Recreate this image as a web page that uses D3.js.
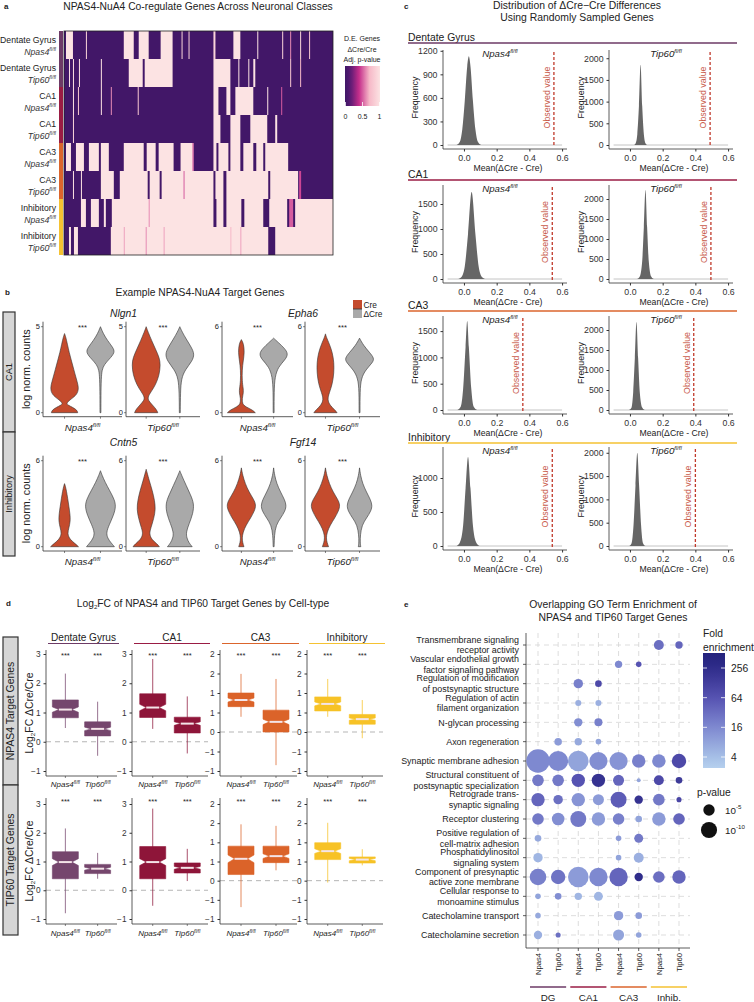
<!DOCTYPE html>
<html>
<head>
  <title>NPAS4-NuA4 co-regulation figure</title>
  <meta charset="utf-8">
  <style>
  body { margin: 0; background: #fff; }
  svg { font-family: "Liberation Sans", Arial, sans-serif; }
  .tick text { fill: #333; }
  .tick line { stroke: #333; }
  </style>
</head>
<body>
<svg width="754" height="1002"></svg>
<script src="https://cdn.jsdelivr.net/npm/d3@7"></script>
<script>

// ================= data =================

var cellTypes = ["Dentate Gyrus", "CA1", "CA3", "Inhibitory"];
var cellColors = ["#6d3a66", "#9a1c44", "#db652c", "#f5c232"];
var genos = ["Npas4", "Tip60"];

// --- a: heatmap, rows = cell type x genotype, runs of genes [from, to, adj p]
var heatGroups = ["Dentate Gyrus", "Dentate Gyrus", "CA1", "CA1", "CA3", "CA3", "Inhibitory", "Inhibitory"];
var heatGenos = ["Npas4", "Tip60", "Npas4", "Tip60", "Npas4", "Tip60", "Npas4", "Tip60"];
var nGenes = 270;
var heatRuns = [
  [[2,9,1],[22,23,0.9],[60,70,1],[75,85,1],[97,109,1],[118,119,0.9],[125,126,0.9],[150,152,0.9],[170,177,1],[194,195,1],[219,220,0.9],[227,228,0.6],[237,238,0.9],[246,247,0.8]],
  [[5,6,1],[9,10,1],[15,16,1],[37,38,1],[65,79,1],[81,109,1],[150,167,1],[175,176,1],[185,186,1],[190,192,1],[227,228,0.8],[237,238,0.7]],
  [[9,10,1],[14,15,0.8],[37,38,1],[47,48,0.6],[74,75,0.8],[150,155,1],[163,167,1],[172,190,1],[204,205,1],[218,219,0.5]],
  [[9,10,0.9],[150,157,1],[167,177,1],[187,204,1],[212,214,1]],
  [[2,7,1],[12,20,1],[25,35,1],[37,45,1],[60,80,1],[83,92,1],[95,110,1],[117,130,1],[129,130,0.45],[150,153,1],[155,165,1],[167,177,1],[180,190,1],[193,200,1],[202,225,1]],
  [[9,10,1],[17,18,1],[37,50,1],[56,84,1],[86,96,1],[98,150,1],[120,121,0.5],[152,160,1],[163,205,1],[207,235,1],[236,238,0.45]],
  [[17,22,1],[27,35,1],[40,42,1],[48,150,1],[85,86,0.6],[153,160,1],[163,178,1],[181,200,1],[206,224,1],[226,230,0.5],[232,270,1]],
  [[5,7,1],[10,14,1],[47,205,1],[60,61,0.65],[82,83,0.6],[100,101,0.65],[167,168,0.7],[177,178,0.65],[212,270,1]]
];

// --- b: violins, profile = [log norm. count, relative half width]
var violinGenes = ["Nlgn1", "Epha6", "Cntn5", "Fgf14"];
var violinMax = [5, 6, 6, 6];
var nlgn1 = {
  Npas4: { Cre: [[0,0.85],[0.15,0.8],[0.3,0.55],[0.45,0.2],[0.55,0.12],[0.75,0.35],[1.0,0.75],[1.3,0.9],[1.6,0.88],[2.0,0.75],[2.5,0.6],[3.0,0.45],[3.5,0.3],[4.0,0.18],[4.4,0.08],[4.6,0]],
           dCre: [[0,0.03],[1,0.03],[2,0.05],[2.5,0.1],[2.8,0.25],[3.1,0.55],[3.5,0.95],[3.8,0.8],[4.2,0.45],[4.6,0.18],[5,0]] },
  Tip60: { Cre: [[0,0.75],[0.2,0.65],[0.45,0.4],[0.7,0.15],[0.9,0.1],[1.2,0.3],[1.6,0.6],[2.2,0.85],[2.8,0.92],[3.2,0.85],[3.7,0.6],[4.2,0.35],[4.7,0.12],[5,0]],
           dCre: [[0,0.03],[1.2,0.04],[2,0.1],[2.5,0.35],[3.0,0.8],[3.4,0.95],[3.8,0.75],[4.3,0.4],[4.7,0.15],[5,0]] }
};
var epha6 = {
  Npas4: { Cre: [[0,0.9],[0.2,0.7],[0.4,0.3],[0.6,0.06],[1.0,0.05],[1.4,0.14],[1.7,0.12],[2.2,0.05],[3.0,0.05],[3.6,0.12],[4.2,0.2],[4.8,0.15],[5.1,0]],
           dCre: [[0,0.03],[1.5,0.03],[2.5,0.08],[3.2,0.3],[3.7,0.75],[4.1,0.95],[4.5,0.7],[4.9,0.3],[5.2,0]] },
  Tip60: { Cre: [[0,0.75],[0.2,0.6],[0.5,0.3],[0.9,0.12],[1.4,0.25],[2.0,0.45],[2.8,0.55],[3.5,0.55],[4.2,0.45],[4.8,0.25],[5.3,0.05],[5.5,0]],
           dCre: [[0,0.03],[1.5,0.03],[2.4,0.1],[3.0,0.4],[3.5,0.85],[3.8,0.95],[4.2,0.65],[4.7,0.25],[5.2,0]] }
};
var cntn5 = {
  Npas4: { Cre: [[0,0.9],[0.2,0.7],[0.5,0.35],[0.9,0.18],[1.3,0.28],[1.8,0.38],[2.3,0.35],[2.8,0.28],[3.4,0.2],[3.9,0.12],[4.2,0.06],[4.4,0]],
           dCre: [[0,0.9],[0.25,0.7],[0.6,0.45],[1.0,0.38],[1.5,0.55],[2.2,0.85],[2.8,1.0],[3.3,0.9],[3.9,0.6],[4.5,0.3],[5.0,0.1],[5.3,0]] },
  Tip60: { Cre: [[0,0.85],[0.2,0.7],[0.5,0.35],[0.9,0.2],[1.3,0.3],[2.0,0.5],[2.6,0.6],[3.2,0.55],[3.9,0.4],[4.6,0.2],[5.2,0.05],[5.4,0]],
           dCre: [[0,0.8],[0.25,0.6],[0.6,0.45],[1.0,0.4],[1.6,0.6],[2.3,0.85],[3.0,0.92],[3.6,0.7],[4.3,0.4],[4.9,0.15],[5.3,0]] }
};
var fgf14 = {
  Npas4: { Cre: [[0,0.17],[0.3,0.08],[0.6,0.05],[1.0,0.1],[1.5,0.3],[2.0,0.6],[2.5,0.85],[2.9,0.95],[3.3,0.8],[3.8,0.5],[4.4,0.25],[5.0,0.08],[5.5,0]],
           dCre: [[0,0.03],[0.8,0.05],[1.5,0.15],[2.0,0.45],[2.5,0.75],[2.9,0.82],[3.3,0.7],[3.8,0.45],[4.4,0.2],[5.0,0.06],[5.5,0]] },
  Tip60: { Cre: [[0,0.2],[0.3,0.1],[0.6,0.05],[1.0,0.1],[1.5,0.3],[2.0,0.6],[2.5,0.85],[2.9,0.95],[3.3,0.8],[3.8,0.5],[4.4,0.25],[5.0,0.08],[5.5,0]],
           dCre: [[0,0.08],[0.3,0.04],[0.8,0.05],[1.5,0.15],[2.0,0.45],[2.5,0.75],[2.9,0.82],[3.3,0.7],[3.8,0.45],[4.4,0.2],[5.0,0.06],[5.5,0]] }
};
var violinData = [nlgn1, epha6, cntn5, fgf14];

// --- c: null distributions [mean(dCre - Cre), frequency]
var nullDist = [
  [[-0.045,0],[-0.025,40],[-0.01,200],[0.005,560],[0.02,1000],[0.03,1130],[0.04,1000],[0.055,560],[0.07,200],[0.085,40],[0.105,0]],
  [[0.025,0],[0.035,40],[0.045,250],[0.055,900],[0.065,1850],[0.075,900],[0.085,250],[0.095,40],[0.105,0]],
  [[-0.035,0],[-0.015,40],[0.005,250],[0.025,900],[0.047,1740],[0.07,900],[0.09,250],[0.11,40],[0.13,0]],
  [[0.045,0],[0.06,60],[0.075,450],[0.085,1300],[0.095,2225],[0.105,1300],[0.115,450],[0.13,60],[0.145,0]],
  [[-0.04,0],[-0.02,60],[-0.005,400],[0.01,1200],[0.02,1690],[0.03,1200],[0.045,400],[0.06,60],[0.08,0]],
  [[-0.005,0],[0.01,60],[0.02,450],[0.03,1300],[0.04,2200],[0.05,1300],[0.06,450],[0.075,60],[0.09,0]],
  [[-0.045,0],[-0.025,50],[-0.005,300],[0.01,850],[0.025,1310],[0.04,850],[0.055,300],[0.075,50],[0.095,0]],
  [[-0.005,0],[0.01,60],[0.022,450],[0.034,1300],[0.045,2000],[0.056,1300],[0.068,450],[0.08,60],[0.095,0]]
];
var observed = [0.55, 0.49, 0.54, 0.495, 0.36, 0.39, 0.54, 0.40];
var nullYMax = [1210, 2190, 1880, 2350, 1787, 2350, 1456, 2124];
var nullTicks = [[0,300,600,900,1200],[0,500,1000,1500,2000],[0,500,1000,1500],[0,500,1000,1500,2000],
                 [0,500,1000,1500],[0,500,1000,1500,2000],[0,500,1000],[0,500,1000,1500,2000]];
var nullXTicks = [0, 0.2, 0.4, 0.6];

// --- d: boxes [lower whisker, q1, median, q3, upper whisker, notch half-height]
var npas4TargetBoxes = [
  [0.47, 0.82, 1.1, 1.43, 2.33, 0.09], [-0.48, 0.2, 0.44, 0.68, 1.37, 0.06],
  [0.44, 0.83, 1.17, 1.64, 2.83, 0.11], [-0.4, 0.3, 0.62, 0.84, 1.55, 0.06],
  [0.39, 0.65, 0.82, 1.0, 1.49, 0.05], [-0.85, 0.0, 0.26, 0.56, 1.36, 0.07],
  [0.39, 0.54, 0.72, 0.9, 1.36, 0.05], [-0.16, 0.2, 0.33, 0.45, 0.82, 0.03]
];
var tip60TargetBoxes = [
  [-0.8, 0.4, 0.98, 1.34, 2.15, 0.12], [0.4, 0.58, 0.75, 0.9, 1.3, 0.05],
  [-0.54, 0.4, 0.98, 1.52, 2.84, 0.12], [0.32, 0.6, 0.78, 0.95, 1.44, 0.05],
  [-0.69, 0.16, 0.57, 0.9, 1.47, 0.1], [0.27, 0.47, 0.64, 0.9, 1.43, 0.06],
  [-0.05, 0.55, 0.77, 0.99, 1.51, 0.06], [0.4, 0.46, 0.55, 0.62, 0.82, 0.03]
];
var boxYDomain = [[-1, 3], [-1, 3], [-1, 2], [-1, 2]];

// --- e: GO terms, [term, column, fold enrichment, -log10 p]
var goTerms = [
  ["Transmembrane signaling", "receptor activity"],
  ["Vascular endothelial growth", "factor signaling pathway"],
  ["Regulation of modification", "of postsynaptic structure"],
  ["Regulation of actin", "filament organization"],
  ["N-glycan processing"],
  ["Axon regeneration"],
  ["Synaptic membrane adhesion"],
  ["Structural constituent of", "postsynaptic specialization"],
  ["Retrograde trans-", "synaptic signaling"],
  ["Receptor clustering"],
  ["Positive regulation of", "cell-matrix adhesion"],
  ["Phosphatidylinositol", "signaling system"],
  ["Component of presynaptic", "active zone membrane"],
  ["Cellular response to", "monoamine stimulus"],
  ["Catecholamine transport"],
  ["Catecholamine secretion"]
];
var goCols = ["Npas4", "Tip60", "Npas4", "Tip60", "Npas4", "Tip60", "Npas4", "Tip60"];
var goGroups = ["DG", "CA1", "CA3", "Inhib."];
var goDots = [
  [0,6,32,3.8],[0,7,40,2.1],
  [1,4,16,2.1],[1,5,64,1.2],
  [2,2,20,3.4],[2,3,90,1.7],
  [3,2,6,1.4],[3,3,6,1.4],
  [4,2,14,2.7],[4,3,20,2.5],
  [5,1,10,2.2],[5,2,7,2.1],[5,3,8,1.2],
  [6,0,16,21],[6,1,16,15.4],[6,2,8,16.3],[6,3,14,12.5],[6,4,12,12.5],[6,5,20,6.9],[6,6,16,6.9],[6,7,90,8],
  [7,0,24,5.2],[7,1,24,5.2],[7,2,64,6.9],[7,3,200,6.9],[7,4,40,4.7],[7,5,8,0.6],[7,6,90,3.8],[7,7,150,1.7],
  [8,0,40,6.9],[8,1,30,3.4],[8,2,12,6.9],[8,3,10,4.7],[8,4,50,9.8],[8,5,200,2.7],[8,6,24,5.2],[8,7,100,1.0],
  [9,0,24,5.2],[9,1,14,6.1],[9,2,24,9.8],[9,3,10,6.9],[9,4,20,5.2],[9,5,8,1.7],[9,6,10,6.9],[9,7,40,5.2],
  [10,0,7,1.7],[10,4,10,1.2],[10,5,24,3.1],
  [11,0,5,3.4],[11,4,8,1.2],[11,5,6,3.8],
  [12,0,20,10.6],[12,1,28,8],[12,2,10,16.3],[12,3,16,13],[12,4,40,13],[12,5,250,2.7],[12,6,32,5.2],[12,7,40,6.9],
  [13,0,8,1.2],[13,1,14,1.7],[13,2,5,2.1],[13,3,5,3.1],
  [14,0,7,1.2],[14,4,10,3.4],[14,5,10,1.7],
  [15,0,6,2.7],[15,1,30,1.0],[15,4,8,4.7],[15,5,8,1.2]
];
var foldTicks = [4, 16, 64, 256];
var pLegend = [5, 10];

// ================= drawing =================

var svg = d3.select("svg");
svg.append("rect").attr("width", 754).attr("height", 1002).attr("fill", "#fff");
var defs = svg.append("defs");

// font size that makes a sample string take a given width
var measurer = svg.append("text").attr("font-size", 10).attr("visibility", "hidden");
function fit(str, width, italic) {
  measurer.text(str).attr("font-style", italic ? "italic" : "normal");
  return 10 * width / measurer.node().getComputedTextLength();
}
var fs = {
  titleA: fit("NPAS4-NuA4 Co-regulate Genes Across Neuronal Classes", 270),
  rowA: fit("Dentate Gyrus", 56),
  legA: fit("Adj. p-value", 37),
  titleB: fit("Example NPAS4-NuA4 Target Genes", 169),
  gene: fit("Epha6", 30, true),
  genoB: fit("Npas4", 28, true),
  ylabB: fit("log norm. counts", 80),
  stripB: fit("CA1", 18),
  legB: fit("\u0394Cre", 19),
  titleC: fit("Distribution of \u0394Cre\u2212Cre Differences", 168),
  headC: fit("Dentate Gyrus", 67),
  tickC: fit("1200", 19.5),
  xlabC: fit("Mean(\u0394Cre - Cre)", 69),
  ylabC: fit("Frequency", 42),
  obsC: fit("Observed value", 62),
  genoC: fit("Npas4", 28, true),
  headD: fit("Dentate Gyrus", 65),
  stripD: fit("TIP60 Target Genes", 93),
  genoD: fit("Npas4", 23, true),
  titleE: fit("Overlapping GO Term Enrichment of", 168),
  goE: fit("Synaptic membrane adhesion", 118),
  colE: fit("Npas4", 22),
  grpE: fit("Inhib.", 24),
  legE: fit("enrichment", 51)
};
measurer.remove();

function txt(g, x, y, s, size, anchor) {
  return g.append("text").attr("x", x).attr("y", y).attr("font-size", size)
    .attr("text-anchor", anchor || "start").attr("fill", "#222").text(s);
}
function geno(g, x, y, name, size, anchor) {
  var t = g.append("text").attr("x", x).attr("y", y).attr("font-size", size)
    .attr("font-style", "italic").attr("text-anchor", anchor || "middle").attr("fill", "#222");
  t.append("tspan").text(name);
  t.append("tspan").attr("font-size", size * 0.6).attr("dy", -size * 0.4).text("fl/fl");
  return t;
}
function line(g, x1, y1, x2, y2, color, w) {
  return g.append("line").attr("x1", x1).attr("y1", y1).attr("x2", x2).attr("y2", y2)
    .attr("stroke", color || "#333").attr("stroke-width", w || 0.8);
}
function strip(g, x, y, w, h, label, size) {
  g.append("rect").attr("x", x).attr("y", y).attr("width", w).attr("height", h)
    .attr("fill", "#d6d6d6").attr("stroke", "#333").attr("stroke-width", 1.2);
  txt(g, 0, 0, label, size, "middle")
    .attr("transform", "translate(" + (x + w / 2 + size * 0.35) + "," + (y + h / 2) + ") rotate(-90)");
}
function letter(x, y, s) {
  txt(svg, x, y, s, 8).attr("font-weight", "bold");
}
function plainAxis(g, size) {
  g.attr("font-family", null).attr("font-size", null);
  g.select(".domain").remove();
  g.selectAll("text").attr("font-size", size);
}

// ---------- a ----------
var gA = svg.append("g");
letter(4, 9, "a");
txt(gA, 198, 9.5, "NPAS4-NuA4 Co-regulate Genes Across Neuronal Classes", fs.titleA, "middle");

var hx = d3.scaleLinear().domain([0, nGenes]).range([64, 333]);
var hy = d3.scaleBand().domain(d3.range(heatGroups.length)).range([31, 255]);
var hcol = d3.scaleLinear().domain([0, 0.15, 0.4, 0.7, 1])
  .range(["#3f1766", "#571a73", "#c52e8b", "#f6b9c8", "#fce3e3"]);

gA.append("rect").attr("x", hx(0)).attr("y", hy(0)).attr("width", hx(nGenes) - hx(0))
  .attr("height", hy.range()[1] - hy.range()[0]).attr("fill", hcol(0.02));
heatRuns.forEach(function(runs, i) {
  gA.selectAll(null).data(runs).enter().append("rect")
    .attr("x", function(d) { return hx(d[0]); })
    .attr("width", function(d) { return Math.max(1, hx(d[1]) - hx(d[0])); })
    .attr("y", hy(i)).attr("height", hy.bandwidth())
    .attr("fill", function(d) { return hcol(d[2]); });
});
gA.append("rect").attr("x", hx(0)).attr("y", hy(0)).attr("width", hx(nGenes) - hx(0))
  .attr("height", hy.range()[1] - hy.range()[0]).attr("fill", "none").attr("stroke", "#222").attr("stroke-width", 0.8);
gA.selectAll(null).data(heatGroups).enter().append("rect")
  .attr("x", 59).attr("width", 4)
  .attr("y", function(d, i) { return hy(i); }).attr("height", hy.bandwidth())
  .attr("fill", function(d) { return cellColors[cellTypes.indexOf(d)]; });
heatGroups.forEach(function(gname, i) {
  var cy = hy(i) + hy.bandwidth() / 2;
  txt(gA, 56, cy - 2, gname, fs.rowA, "end");
  geno(gA, 56, cy + 9.5, heatGenos[i], fs.rowA, "end").attr("fill", "#333");
});

// legend a
var gradA = defs.append("linearGradient").attr("id", "gradA");
d3.range(0, 1.01, 0.1).forEach(function(v) {
  gradA.append("stop").attr("offset", v).attr("stop-color", hcol(v));
});
txt(gA, 362, 41, "D.E. Genes", fs.legA, "middle");
txt(gA, 362, 51.5, "\u0394Cre/Cre", fs.legA, "middle");
txt(gA, 362, 62, "Adj. p-value", fs.legA, "middle");
var lx = d3.scaleLinear().domain([0, 1]).range([345.5, 379.5]);
gA.append("rect").attr("x", 345).attr("y", 66).attr("width", 35).attr("height", 40).attr("fill", "url(#gradA)");
[0, 0.5, 1].forEach(function(v) {
  line(gA, lx(v), 102, lx(v), 106, "#fff", 0.8);
  txt(gA, lx(v), 118.5, String(v), fs.legA, "middle");
});

// ---------- b ----------
var gB = svg.append("g");
letter(5, 295, "b");
txt(gB, 200, 295.5, "Example NPAS4-NuA4 Target Genes", fs.titleB, "middle");
gB.append("rect").attr("x", 353).attr("y", 300).attr("width", 9).attr("height", 9).attr("fill", "#c44b2d");
gB.append("rect").attr("x", 353).attr("y", 309).attr("width", 9).attr("height", 9).attr("fill", "#a9a9a9");
line(gB, 353, 309, 362, 309, "#333", 0.8);
txt(gB, 363.5, 307.5, "Cre", fs.legB);
txt(gB, 363.5, 317, "\u0394Cre", fs.legB);

var vRows = [
  { strip: [312, 120], label: "CA1", zero: 412.7, top: 326.7, axTop: 321.7, axBot: 416.7, title: 316.5, stars: 330, xlab: 431 },
  { strip: [432, 124], label: "Inhibitory", zero: 546.7, top: 460.7, axTop: 455.7, axBot: 551, title: 446, stars: 464, xlab: 565 }
];
var vPanelX = [[43, 122], [126, 200], [222, 293], [305, 380]];
var conds = ["Cre", "dCre"];
var condFill = { Cre: "#c44b2d", dCre: "#a9a9a9" };

vRows.forEach(function(row, ri) {
  strip(gB, 3, row.strip[0], 12, row.strip[1], row.label, fs.stripB);
  txt(gB, 0, 0, "log norm. counts", fs.ylabB, "middle")
    .attr("transform", "translate(" + 30 + "," + ((row.axTop + row.axBot) / 2) + ") rotate(-90)");
  [0, 1].forEach(function(gi) {
    var gene = ri * 2 + gi;
    var ymax = violinMax[gene];
    var vy = d3.scaleLinear().domain([0, ymax]).range([row.zero, row.top]);
    var px0 = vPanelX[gi * 2][0], px1 = vPanelX[gi * 2 + 1][1];
    txt(gB, (px0 + px1) / 2 + 2, row.title, violinGenes[gene], fs.gene, "middle").attr("font-style", "italic");
    genos.forEach(function(gt, pi) {
      var pr = vPanelX[gi * 2 + pi];
      var vx = d3.scalePoint().domain(conds).range(pr).padding(0.6);
      var pg = gB.append("g");
      conds.forEach(function(c) {
        var cx = vx(c), hw = 15.5;
        var area = d3.area()
          .y(function(d) { return vy(d[0]); })
          .x0(function(d) { return cx - d[1] * hw; })
          .x1(function(d) { return cx + d[1] * hw; })
          .curve(d3.curveBasis);
        pg.append("path").datum(violinData[gene][gt][c]).attr("d", area)
          .attr("fill", condFill[c]).attr("stroke", "#333").attr("stroke-width", 0.6);
        line(pg, cx, row.axBot, cx, row.axBot + 2, "#333", 0.6);
      });
      line(pg, pr[0], row.axTop, pr[0], row.axBot, "#333", 0.8);
      line(pg, pr[0], row.axBot, pr[1], row.axBot, "#333", 0.8);
      [0, ymax].forEach(function(t) {
        line(pg, pr[0] - 2, vy(t), pr[0], vy(t), "#333", 0.6);
        txt(pg, pr[0] - 3, vy(t) + 2.5, String(t), 7.5, "end");
      });
      txt(pg, (pr[0] + pr[1]) / 2, row.stars, "***", 7.5, "middle");
      geno(pg, (pr[0] + pr[1]) / 2, row.xlab, gt, fs.genoB);
    });
  });
});

// ---------- c ----------
var gC = svg.append("g");
letter(404, 9, "c");
txt(gC, 577, 9, "Distribution of \u0394Cre\u2212Cre Differences", fs.titleC, "middle");
txt(gC, 577, 21, "Using Randomly Sampled Genes", fs.titleC, "middle");

var cSecTop = [50, 185, 316, 447];
var cSecZero = [145, 279, 410, 546];
var cHeaderY = [43, 180, 311, 443];
var cPanelX = [[443, 567], [609, 733]];

cellTypes.forEach(function(ct, si) {
  txt(gC, 408, cHeaderY[si] - 2.5, ct, fs.headC);
  line(gC, 408, cHeaderY[si], 737, cHeaderY[si], cellColors[si], 1.5);
  genos.forEach(function(gt, pi) {
    var k = si * 2 + pi;
    var pr = cPanelX[pi];
    var top = cSecTop[si], zero = cSecZero[si], axY = zero + 4;
    var x = d3.scaleLinear().domain([-0.128, 0.63]).range(pr);
    var y = d3.scaleLinear().domain([0, nullYMax[k]]).range([zero, top]);
    var pg = gC.append("g");
    line(pg, x(-0.1), y(0), x(0.6), y(0), "#c4c4c4", 1);
    pg.append("path").datum(nullDist[k])
      .attr("d", d3.area().x(function(d) { return x(d[0]); }).y0(y(0)).y1(function(d) { return y(d[1]); }).curve(d3.curveMonotoneX))
      .attr("fill", "#666");
    line(pg, x(observed[k]), top + 2, x(observed[k]), zero + 2, "#c0392b", 1.3).attr("stroke-dasharray", "3,2");
    txt(pg, 0, 0, "Observed value", fs.obsC, "middle").attr("fill", "#c85a4a")
      .attr("transform", "translate(" + (x(observed[k]) - 4) + "," + ((top + zero) / 2) + ") rotate(-90)");
    pg.append("g").attr("transform", "translate(0," + axY + ")")
      .call(d3.axisBottom(x).tickValues(nullXTicks).tickFormat(d3.format(".1f")).tickSize(2.5))
      .call(plainAxis, fs.tickC);
    pg.append("g").attr("transform", "translate(" + pr[0] + ",0)")
      .call(d3.axisLeft(y).tickValues(nullTicks[k]).tickFormat(d3.format("d")).tickSize(2.5))
      .call(plainAxis, fs.tickC);
    line(pg, pr[0], top, pr[0], axY, "#333", 0.8);
    line(pg, pr[0], axY, pr[1], axY, "#333", 0.8);
    txt(pg, (pr[0] + pr[1]) / 2 + 3, axY + 21.5, "Mean(\u0394Cre - Cre)", fs.xlabC, "middle");
    txt(pg, 0, 0, "Frequency", fs.ylabC, "middle")
      .attr("transform", "translate(" + (pr[0] - 25) + "," + ((top + zero) / 2) + ") rotate(-90)");
    geno(pg, x(0.22), top + 7, gt, fs.genoC);
  });
});

// ---------- d ----------
var gD = svg.append("g");
letter(6, 606, "d");
var tD = txt(gD, 203, 606.5, "Log", fs.titleB, "middle");
tD.append("tspan").attr("font-size", fs.titleB * 0.6).attr("dy", 2).text("2");
tD.append("tspan").attr("dy", -2).text("FC of NPAS4 and TIP60 Target Genes by Cell-type");

var dPanelX = [[46, 117], [132, 208], [220, 297], [307, 383]];
var dRows = [
  { boxes: npas4TargetBoxes, label: "NPAS4 Target Genes", strip: [637, 148], axTop: 650, axBot: 776, yr: [771, 654], stars: 658, xlab: 787 },
  { boxes: tip60TargetBoxes, label: "TIP60 Target Genes", strip: [785, 150], axTop: 798, axBot: 924, yr: [919, 804], stars: 804, xlab: 936 }
];
var boxFill = ["#75466d", "#8e1539", "#db6329", "#f7c226"];

cellTypes.forEach(function(ct, gi) {
  var pr = dPanelX[gi];
  txt(gD, (pr[0] + pr[1]) / 2 + 2, 640.5, ct, fs.headD, "middle");
  line(gD, pr[0] + 2, 643.5, pr[1] + 2, 643.5, cellColors[gi], 1.2);
});

dRows.forEach(function(row) {
  strip(gD, 3, row.strip[0], 15, row.strip[1], row.label, fs.stripD);
  var yl = txt(gD, 0, 0, "Log", fs.stripD, "middle")
    .attr("transform", "translate(" + 33 + "," + ((row.axTop + row.axBot) / 2) + ") rotate(-90)");
  yl.append("tspan").attr("font-size", fs.stripD * 0.6).attr("dy", 2).text("2");
  yl.append("tspan").attr("dy", -2).text("FC \u0394Cre/Cre");
  cellTypes.forEach(function(ct, gi) {
    var pr = dPanelX[gi];
    var y = d3.scaleLinear().domain(boxYDomain[gi]).range(row.yr);
    var x = d3.scalePoint().domain(genos).range(pr).padding(0.6);
    var pg = gD.append("g");
    line(pg, pr[0], y(0), pr[1], y(0), "#b5b5b5", 1).attr("stroke-dasharray", "5,4");
    genos.forEach(function(gt, pi) {
      var b = row.boxes[gi * 2 + pi];
      var cx = x(gt), w = 13, nw = 6.5;
      var col = boxFill[gi];
      line(pg, cx, y(b[0]), cx, y(b[4]), col, 1).attr("stroke-opacity", 0.75);
      var pts = [[cx - w, y(b[3])], [cx + w, y(b[3])], [cx + w, y(b[2] + b[5])], [cx + nw, y(b[2])],
                 [cx + w, y(b[2] - b[5])], [cx + w, y(b[1])], [cx - w, y(b[1])], [cx - w, y(b[2] - b[5])],
                 [cx - nw, y(b[2])], [cx - w, y(b[2] + b[5])]];
      pg.append("polygon").attr("points", pts.map(function(p) { return p.join(","); }).join(" "))
        .attr("fill", col).attr("stroke", col).attr("stroke-width", 0.6);
      line(pg, cx - nw, y(b[2]), cx + nw, y(b[2]), "#f4e4e8", 2);
      txt(pg, cx, row.stars, "***", 7.5, "middle");
      line(pg, cx, row.axBot, cx, row.axBot + 2, "#333", 0.6);
      geno(pg, cx, row.xlab, gt, fs.genoD);
    });
    pg.append("g").attr("transform", "translate(" + pr[0] + ",0)")
      .call(d3.axisLeft(y).ticks(5).tickFormat(d3.format("d")).tickSize(2.5))
      .call(plainAxis, 8.3);
    line(pg, pr[0], row.axTop, pr[0], row.axBot, "#333", 0.8);
    line(pg, pr[0], row.axBot, pr[1], row.axBot, "#333", 0.8);
  });
});

// ---------- e ----------
var gE = svg.append("g");
letter(404, 607, "e");
txt(gE, 613, 607.5, "Overlapping GO Term Enrichment of", fs.titleE, "middle");
txt(gE, 613, 620.5, "NPAS4 and TIP60 Target Genes", fs.titleE, "middle");

var ey = d3.scalePoint().domain(d3.range(goTerms.length)).range([645, 935]);
var ex = d3.scalePoint().domain(d3.range(goCols.length)).range([538, 679]);
var er = d3.scaleSqrt().domain([0, 20]).range([0, 11.4]);
var ecol = d3.scaleLog().domain([2.4, 4, 16, 64, 256, 520])
  .range(["#b6d0ee", "#a6bfe6", "#7e89d0", "#5653b2", "#2f2c8a", "#24227c"])
  .interpolate(d3.interpolateLab).clamp(true);
var eLeft = 526, eRight = 690, eTop = 633, eBot = 948;

goTerms.forEach(function(t, i) {
  line(gE, eLeft, ey(i), eRight, ey(i), "#d4d4d4", 0.8).attr("stroke-dasharray", "5,4");
  line(gE, eLeft - 3, ey(i), eLeft, ey(i), "#333", 0.8);
  if (t.length === 1) {
    txt(gE, 519, ey(i) + 3.2, t[0], fs.goE, "end");
  } else {
    txt(gE, 519, ey(i) - 2.3, t[0], fs.goE, "end");
    txt(gE, 519, ey(i) + 8.2, t[1], fs.goE, "end");
  }
});
goCols.forEach(function(c, j) {
  line(gE, ex(j), eTop, ex(j), eBot, "#d4d4d4", 0.8).attr("stroke-dasharray", "5,4");
  line(gE, ex(j), eBot, ex(j), eBot + 3, "#333", 0.8);
  txt(gE, 0, 0, c, fs.colE, "end").attr("transform", "translate(" + (ex(j) + 3) + "," + (eBot + 5) + ") rotate(-90)");
});
line(gE, eLeft, eTop, eLeft, eBot, "#333", 0.8);
line(gE, eLeft, eBot, eRight, eBot, "#333", 0.8);
gE.selectAll(null).data(goDots).enter().append("circle")
  .attr("cx", function(d) { return ex(d[1]); })
  .attr("cy", function(d) { return ey(d[0]); })
  .attr("r", function(d) { return er(d[3]); })
  .attr("fill", function(d) { return ecol(d[2]); });
goGroups.forEach(function(gname, k) {
  var x0 = ex(k * 2) - 8, x1 = ex(k * 2 + 1) + 8;
  line(gE, x0, 987, x1, 987, cellColors[k], 1.3);
  txt(gE, (x0 + x1) / 2, 1001, gname, fs.grpE, "middle");
});

// legend e
txt(gE, 703, 637, "Fold", fs.legE);
txt(gE, 703, 651, "enrichment", fs.legE);
var fy = d3.scaleLog().domain([4, 256]).range([757, 668]);
var barTop = 653, barBot = 768;
var gradE = defs.append("linearGradient").attr("id", "gradE").attr("x1", 0).attr("y1", 1).attr("x2", 0).attr("y2", 0);
d3.range(0, 1.001, 0.1).forEach(function(f) {
  gradE.append("stop").attr("offset", f).attr("stop-color", ecol(fy.invert(barBot - f * (barBot - barTop))));
});
gE.append("rect").attr("x", 703).attr("y", barTop).attr("width", 22).attr("height", barBot - barTop).attr("fill", "url(#gradE)");
foldTicks.forEach(function(v) {
  line(gE, 703, fy(v), 707, fy(v), "#fff", 0.8);
  line(gE, 721, fy(v), 725, fy(v), "#fff", 0.8);
  txt(gE, 731, fy(v) + 4, String(v), fs.legE);
});
txt(gE, 697, 796, "p-value", fs.legE);
pLegend.forEach(function(p, i) {
  var cy = 810 + i * 20;
  gE.append("circle").attr("cx", 709).attr("cy", cy).attr("r", er(p)).attr("fill", "#111");
  var t = txt(gE, 725, cy + 3.5, "10", fs.legE * 0.95);
  t.append("tspan").attr("font-size", fs.legE * 0.6).attr("dy", -4.5).text("-" + p);
});

</script>
</body>
</html>
